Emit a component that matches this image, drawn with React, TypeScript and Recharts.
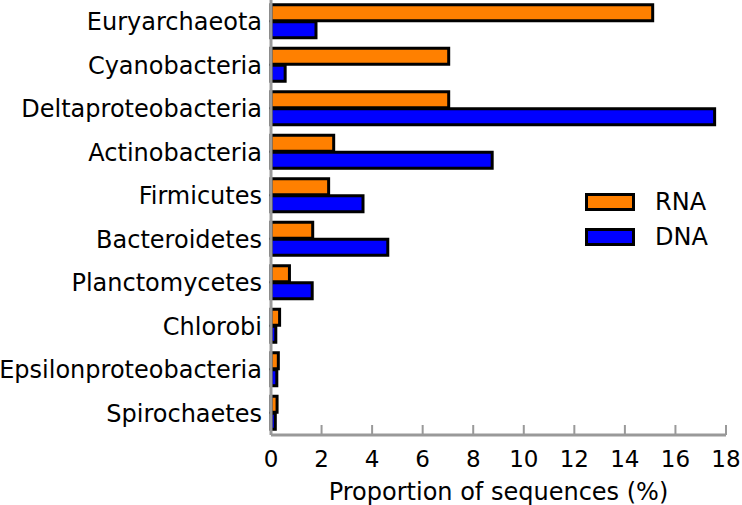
import React from "react";
import { Bar, BarChart, Legend, XAxis, YAxis } from "recharts";

const categories = [
  "Euryarchaeota",
  "Cyanobacteria",
  "Deltaproteobacteria",
  "Actinobacteria",
  "Firmicutes",
  "Bacteroidetes",
  "Planctomycetes",
  "Chlorobi",
  "Epsilonproteobacteria",
  "Spirochaetes",
];
const rnaValues = [15.1, 7.03, 7.03, 2.48, 2.28, 1.65, 0.73, 0.34, 0.29, 0.24];
const dnaValues = [1.78, 0.56, 17.55, 8.75, 3.64, 4.62, 1.63, 0.19, 0.23, 0.17];
const xTicks = [0, 2, 4, 6, 8, 10, 12, 14, 16, 18];

const series = [
  { key: "rna", name: "RNA", color: "#ff8000" },
  { key: "dna", name: "DNA", color: "#0000ff" },
];

const data = categories.map((name, i) => ({ name, rna: rnaValues[i], dna: dnaValues[i] }));

const FONT = "'DejaVu Sans', sans-serif";
const AXIS_GRAY = "#999999";

function XTick(props: any) {
  const { x, y, payload } = props;
  return (
    <g>
      <line x1={x} x2={x} y1={y} y2={y - 10} stroke={AXIS_GRAY} strokeWidth={2} />
      <text x={x} y={y + 32} textAnchor="middle" fontSize={23} fontFamily={FONT} fill="#000">
        {payload.value}
      </text>
    </g>
  );
}

function LegendBox() {
  return (
    <div style={{ fontFamily: FONT, fontSize: 24 }}>
      {series.map((s) => (
        <div key={s.key} style={{ display: "flex", alignItems: "center", height: 35 }}>
          <div
            style={{
              width: 44,
              height: 12,
              background: s.color,
              border: "3px solid #000",
              marginRight: 20,
            }}
          />
          <span>{s.name}</span>
        </div>
      ))}
    </div>
  );
}

export default function App() {
  return (
    <div style={{ position: "absolute", left: 0, top: 0, width: 742, height: 505, background: "#fff" }}>
      <BarChart
        width={742}
        height={505}
        data={data}
        layout="vertical"
        margin={{ top: 0, right: 16, bottom: 0, left: 0 }}
        barCategoryGap="11%"
        barGap={1}
      >
        <XAxis
          type="number"
          domain={[0, 18]}
          ticks={xTicks}
          interval={0}
          height={70}
          tickSize={0}
          tickMargin={0}
          tickLine={false}
          tick={<XTick />}
          axisLine={{ stroke: AXIS_GRAY, strokeWidth: 3 }}
          label={{
            value: "Proportion of sequences (%)",
            position: "insideBottom",
            offset: 5,
            fontSize: 24,
            fontFamily: FONT,
            fill: "#000",
          }}
        />
        <YAxis
          type="category"
          dataKey="name"
          width={271}
          tickSize={0}
          tickMargin={9}
          tickLine={false}
          interval={0}
          tick={{ fontSize: 24, fontFamily: FONT, fill: "#000" }}
          axisLine={{ stroke: AXIS_GRAY, strokeWidth: 3 }}
        />
        <Legend
          layout="vertical"
          align="center"
          verticalAlign="middle"
          content={() => <LegendBox />}
          wrapperStyle={{ left: 585, top: 184, width: 150, height: 70 }}
        />
        {series.map((s) => (
          <Bar
            key={s.key}
            dataKey={s.key}
            name={s.name}
            fill={s.color}
            stroke="#000"
            strokeWidth={3}
            isAnimationActive={false}
          />
        ))}
      </BarChart>
    </div>
  );
}
